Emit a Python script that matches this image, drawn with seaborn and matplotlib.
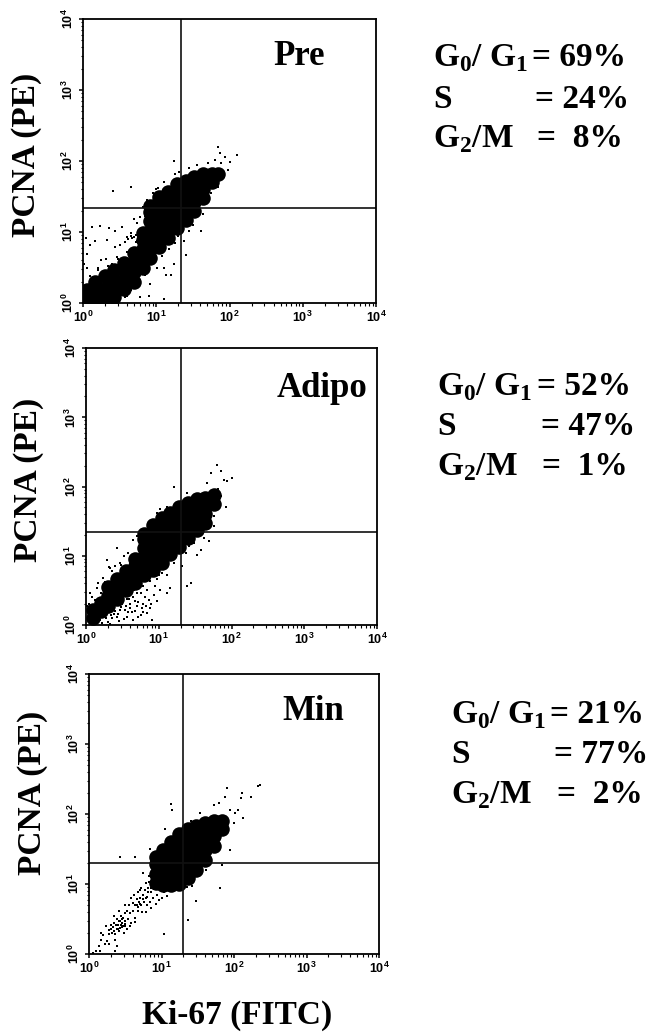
"""Three Ki-67 / PCNA flow cytometry dot plots with cell cycle percentages."""

import matplotlib.pyplot as plt
import numpy as np
import pandas as pd
import seaborn as sns
from matplotlib.ticker import FixedLocator, NullFormatter

# All events are log10 fluorescence (Ki-67, PCNA).
# "core" events are the saturated centre of each cloud, "sparse" the single dots.
pre_core = [
    (.05, .06), (.05, .18), (.17, .05), (.17, .18), (.17, .30), (.30, .07), (.30, .20), (.30, .38),
    (.43, .08), (.43, .20), (.43, .33), (.43, .47), (.56, .20), (.56, .33), (.56, .47), (.56, .56),
    (.69, .30), (.69, .43), (.69, .56), (.69, .70), (.82, .50), (.82, .63), (.82, .76), (.82, .89),
    (.82, .99), (.92, .63), (.92, .76), (.92, .89), (.92, 1.02), (.92, 1.15), (.92, 1.28), (.92, 1.37),
    (1.04, .79), (1.04, .92), (1.04, 1.05), (1.04, 1.18), (1.04, 1.31), (1.04, 1.44), (1.04, 1.50),
    (1.16, .92), (1.16, 1.05), (1.16, 1.18), (1.16, 1.31), (1.16, 1.44), (1.16, 1.57),
    (1.28, 1.05), (1.28, 1.18), (1.28, 1.31), (1.28, 1.44), (1.28, 1.57), (1.28, 1.67),
    (1.40, 1.17), (1.40, 1.30), (1.40, 1.43), (1.40, 1.56), (1.40, 1.72),
    (1.52, 1.29), (1.52, 1.42), (1.52, 1.55), (1.52, 1.68), (1.52, 1.77),
    (1.64, 1.48), (1.64, 1.60), (1.64, 1.72), (1.64, 1.82), (1.76, 1.70), (1.76, 1.82), (1.84, 1.82),
]
pre_sparse = [
    (.41, 1.58), (.65, 1.63), (1.24, 2.0), (.12, 1.07), (.23, 1.08), (.35, 1.06), (.44, 1.02), (.53, 1.07),
    (.04, .92), (.09, .81), (.16, .88), (.33, .89), (.44, .79), (.51, .81), (.60, .93), (.67, .91),
    (.74, .88), (.58, .86), (.65, .98), (.69, 1.19), (.78, 1.21), (.74, 1.12), (.02, .55), (.06, .50),
    (.14, .36), (.21, .50), (.32, .62), (.46, .65), (.05, .69), (.25, .60), (.39, .55), (.78, .08),
    (.90, .10), (1.11, .05), (.92, .27), (1.13, .39), (1.20, .40), (1.11, .50), (1.24, .55), (1.01, .50),
    (1.41, .67), (1.38, .88), (1.61, 1.02), (1.64, 1.26), (1.84, 2.2), (1.87, 2.11), (1.94, 2.06),
    (2.0, 1.99), (2.1, 2.08), (1.98, 1.87), (1.80, 2.01), (1.89, 1.97), (1.25, 1.82), (1.31, 1.85),
    (1.45, 1.90), (1.55, 1.95), (1.70, 1.97), (1.10, 1.70), (1.0, 1.60), (.87, 1.45), (.95, 1.55),
    (.82, 1.35), (1.70, 1.42), (1.60, 1.30), (1.75, 1.55), (1.45, 1.02), (1.50, 1.10), (1.30, .95),
    (1.25, .85), (1.0, .60), (.85, .40), (.75, .25), (.60, .10), (.50, .05), (.66, .95), (.70, .93),
    (.62, .90), (.72, .96), (.10, .38), (.20, .47), (.34, .52), (.48, .62), (.60, .72), (.72, .86),
    (.78, 1.02), (.58, .09), (.66, .18), (.78, .33), (.90, .46), (1.08, .66), (1.18, .76), (1.32, .98),
    (1.44, 1.08), (1.56, 1.22), (1.72, 1.50), (1.84, 1.64), (1.92, 1.78), (.84, 1.22), (1.02, 1.62),
]

adipo_core = [
    (.10, .10), (.10, .22), (.20, .20), (.20, .32), (.30, .28), (.30, .42), (.30, .55), (.42, .38),
    (.42, .52), (.42, .66), (.55, .50), (.55, .63), (.55, .78), (.68, .60), (.68, .72), (.68, .85),
    (.68, .95), (.80, .72), (.80, .85), (.80, .98), (.80, 1.11), (.80, 1.24), (.80, 1.32),
    (.92, .80), (.92, .93), (.92, 1.06), (.92, 1.19), (.92, 1.32), (.92, 1.45),
    (1.04, .90), (1.04, 1.03), (1.04, 1.16), (1.04, 1.29), (1.04, 1.42), (1.04, 1.55),
    (1.16, 1.02), (1.16, 1.15), (1.16, 1.28), (1.16, 1.41), (1.16, 1.54), (1.16, 1.62),
    (1.28, 1.13), (1.28, 1.26), (1.28, 1.39), (1.28, 1.52), (1.28, 1.65), (1.28, 1.70),
    (1.40, 1.25), (1.40, 1.38), (1.40, 1.51), (1.40, 1.64), (1.40, 1.76),
    (1.52, 1.37), (1.52, 1.50), (1.52, 1.63), (1.52, 1.76), (1.52, 1.82),
    (1.64, 1.48), (1.64, 1.60), (1.64, 1.72), (1.64, 1.84), (1.76, 1.75), (1.76, 1.88),
]
adipo_sparse = [
    (1.80, 2.31), (1.72, 2.20), (1.85, 2.22), (1.90, 2.10), (2.01, 2.12), (1.94, 2.08), (1.92, 1.71),
    (1.76, 1.57), (1.85, 1.86), (1.21, 2.0), (.42, 1.11), (.29, .94), (.31, .84), (.17, .60), (.06, .46),
    (.02, .27), (.10, .12), (.19, .07), (.33, .02), (.38, .24), (.47, .22), (.56, .12), (.65, .07),
    (.75, .14), (.84, .17), (.91, .07), (.70, .27), (.79, .31), (.86, .36), (.98, .34), (1.12, .46),
    (1.02, .51), (.95, .56), (1.16, .53), (.84, .51), (.75, .46), (.61, .31), (.54, .22), (.63, .19),
    (.42, .12), (.72, .12), (.79, .19), (.68, .34), (.65, .41), (1.05, .75), (1.12, .72), (1.21, .89),
    (1.32, .85), (1.44, .60), (1.39, .56), (1.37, 1.04), (1.53, 1.01), (1.58, 1.09), (1.69, 1.21),
    (1.62, 1.26), (1.48, 1.18), (1.41, 1.14), (1.76, 1.43), (.65, 1.23), (.70, 1.28), (.58, 1.04),
    (.52, .99), (.40, .85), (.33, .82), (.47, .89), (.24, .68), (.15, .53), (.08, .41), (1.02, 1.67),
    (1.12, 1.71), (1.39, 1.91), (1.53, 1.88), (1.67, 2.05), (1.81, 1.96), (.98, 1.62), (.86, 1.43),
    (.25, .15), (.15, .30), (.30, .05), (.12, .05), (.05, .15), (.22, .03), (.04, .30), (.60, .24),
    (.50, .30), (.88, .25), (.93, .44), (.66, .50), (.57, .37), (.44, .16), (.52, .08), (.58, .19),
    (.68, .20), (.72, .33), (.77, .24), (.82, .28), (.81, .40), (.90, .30), (.55, .27), (.46, .06),
    (.36, .10), (.28, .10), (.38, .16), (.03, .08), (.14, .17), (.26, .62), (.36, .78), (.48, .86),
    (.60, .94), (.73, 1.08), (.21, .46), (.13, .36), (.34, .14), (.40, .20), (.48, .26), (.59, .38),
    (.70, .46), (.78, .56), (.88, .64), (1.00, .72), (.98, .66), (1.10, .82), (1.24, .98), (1.36, 1.10),
    (1.48, 1.24), (1.60, 1.38),
]

min_core = [
    (.92, 1.02), (.92, 1.15), (.92, 1.28), (.92, 1.38), (1.02, .98), (1.02, 1.10), (1.02, 1.23),
    (1.02, 1.36), (1.02, 1.49), (1.13, .98), (1.13, 1.10), (1.13, 1.23), (1.13, 1.36), (1.13, 1.49),
    (1.13, 1.60), (1.24, 1.0), (1.24, 1.13), (1.24, 1.26), (1.24, 1.39), (1.24, 1.52), (1.24, 1.65),
    (1.24, 1.72), (1.36, 1.08), (1.36, 1.21), (1.36, 1.34), (1.36, 1.47), (1.36, 1.60), (1.36, 1.73),
    (1.36, 1.79), (1.48, 1.20), (1.48, 1.33), (1.48, 1.46), (1.48, 1.59), (1.48, 1.72), (1.48, 1.83),
    (1.60, 1.35), (1.60, 1.48), (1.60, 1.61), (1.60, 1.74), (1.60, 1.87), (1.72, 1.55), (1.72, 1.68),
    (1.72, 1.81), (1.72, 1.90), (1.83, 1.78), (1.83, 1.90),
]
min_sparse = [
    (.05, .02), (.10, .05), (.14, .12), (.17, .20), (.20, .27), (.16, .30), (.22, .15), (.25, .19),
    (.27, .28), (.28, .35), (.30, .42), (.32, .30), (.33, .38), (.35, .44), (.36, .28), (.38, .36),
    (.39, .50), (.40, .42), (.42, .33), (.43, .47), (.44, .55), (.45, .38), (.46, .44), (.47, .52),
    (.48, .30), (.49, .40), (.50, .58), (.50, .47), (.52, .62), (.52, .36), (.54, .50), (.55, .70),
    (.56, .58), (.58, .45), (.60, .73), (.60, .62), (.62, .84), (.63, .52), (.64, .70), (.66, .78),
    (.67, .62), (.68, .88), (.70, .71), (.71, .80), (.72, .95), (.73, .60), (.74, .85), (.76, .74),
    (.77, .92), (.78, 1.02), (.80, .82), (.80, .70), (.82, .95), (.83, 1.12), (.84, .75), (.85, .88),
    (.87, 1.02), (.88, .80), (.90, .93), (.92, .72), (.94, .85), (.96, .77), (1.0, .80), (1.03, .88),
    (1.08, .83), (1.12, .90), (.43, 1.39), (.63, 1.39), (.84, 1.50), (1.13, 2.14), (1.14, 2.06),
    (1.03, .29), (1.37, .48), (1.47, .76), (1.80, .94), (1.94, 1.48), (1.62, 1.20), (1.83, 1.27),
    (2.36, 2.41), (2.33, 2.40), (2.23, 2.24), (2.11, 2.30), (2.09, 2.23), (2.05, 2.06), (2.13, 1.94),
    (1.90, 2.37), (1.72, 2.13), (1.53, 2.01), (1.79, 2.16), (1.95, 2.06), (2.02, 2.01), (2.0, 1.87),
    (1.88, 2.25), (1.90, 1.73), (1.81, 1.54), (1.05, 1.78), (1.17, 1.73), (1.40, 1.90), (1.49, 1.11),
    (1.42, .97), (1.35, .96), (.75, 1.16), (.36, .04), (.38, .11), (.15, .04), (.41, .47), (.44, .41),
    (.47, .40), (.50, .43), (.43, .37), (.46, .50), (.37, .42), (.40, .36), (.34, .33), (.31, .36),
    (.66, .70), (.69, .75), (.72, .70), (.68, .67), (.74, .78), (.78, .80), (.81, .88), (.86, .95),
    (.89, 1.10), (.83, 1.03), (.24, .40), (.34, .55), (.42, .62), (.56, .40), (.64, .46), (.79, .60),
    (.86, .66), (.70, .92), (.58, .80), (.50, .70), (.28, .15), (.36, .20),
]

panel_names = ["Pre", "Adipo", "Min"]
gate_ki67 = [22, 20, 20]
gate_pcna = [22, 22, 20]
g0g1_pct = ["69%", "52%", "21%"]
s_pct = ["24%", "47%", "77%"]
g2m_pct = ["8%", "1%", "2%"]

decades = [1, 10, 100, 1000, 10000]
decade_labels = ["10$^{\\mathsf{0}}$", "10$^{\\mathsf{1}}$", "10$^{\\mathsf{2}}$",
                 "10$^{\\mathsf{3}}$", "10$^{\\mathsf{4}}$"]

W, H = 659, 1032
# left, right, top, bottom in pixels
boxes = [(83, 376, 19, 303), (86, 377, 348, 625), (89, 379, 674, 954)]
# y label centre x, y; panel name x, baseline
ylabel_pos = [(27, 155), (29, 480), (33, 793)]
name_pos = [(273, 65), (277, 397), (282, 720)]
# label x, row baselines, x of the "=" in the three rows
side_text = [
    (433, (66, 108, 147), (532, 535, 537)),
    (437, (395, 435, 475), (537, 541, 542)),
    (451, (723, 763, 803), (550, 554, 557)),
]

plt.rcParams.update(
    {
        "mathtext.fontset": "custom",
        "mathtext.bf": "Liberation Serif:bold",
        "mathtext.sf": "Liberation Sans:bold",
        "mathtext.rm": "Liberation Serif:bold",
    }
)
sns.set_theme(style="ticks", rc={"axes.linewidth": 1.3})


def events(pairs):
    arr = 10 ** np.array(pairs)
    return pd.DataFrame({"ki67": arr[:, 0], "pcna": arr[:, 1]})


fig = plt.figure(figsize=(W / 100, H / 100), dpi=100, facecolor="white")
clouds = [(pre_core, pre_sparse), (adipo_core, adipo_sparse), (min_core, min_sparse)]
serif = dict(family="Liberation Serif", weight="bold", color="black")

for i, (l, r, t, b) in enumerate(boxes):
    ax = fig.add_axes([l / W, 1 - b / H, (r - l) / W, (b - t) / H])
    core, sparse = clouds[i]
    sns.scatterplot(data=events(core), x="ki67", y="pcna", ax=ax, color="black", s=110, linewidth=0)
    sns.scatterplot(data=events(sparse), x="ki67", y="pcna", ax=ax, color="black", s=3.2, linewidth=0, marker="s")
    ax.set_xscale("log")
    ax.set_yscale("log")
    ax.set_xlim(1, 10000)
    ax.set_ylim(1, 10000)
    ax.axvline(gate_ki67[i], color="#111111", lw=1.2)
    ax.axhline(gate_pcna[i], color="#111111", lw=1.2)
    ax.xaxis.set_major_locator(FixedLocator(decades))
    ax.yaxis.set_major_locator(FixedLocator(decades))
    ax.xaxis.set_minor_formatter(NullFormatter())
    ax.yaxis.set_minor_formatter(NullFormatter())
    ax.set_xticklabels(decade_labels, family="Liberation Sans", weight="bold", fontsize=9)
    ax.set_yticklabels(decade_labels, family="Liberation Sans", weight="bold", fontsize=9,
                       rotation=90, va="center")
    ax.tick_params(which="major", length=3, width=1.1, pad=2, colors="black")
    ax.tick_params(which="minor", length=1.8, width=0.8, colors="black")
    ax.set_xlabel("")
    ax.set_ylabel("")
    for spine in ax.spines.values():
        spine.set_visible(True)
        spine.set_color("black")

    lx, ly = ylabel_pos[i]
    fig.text(lx / W, 1 - ly / H, "PCNA (PE)", rotation=90, ha="center", va="center", fontsize=24, **serif)
    nx, ny = name_pos[i]
    fig.text(nx / W, 1 - ny / H, panel_names[i], ha="left", va="baseline", fontsize=25, **serif)

    x_lab, rows, x_eq = side_text[i]
    side = dict(fontsize=24, va="baseline", **serif)
    fig.text(x_lab / W, 1 - rows[0] / H, "G$_{\\mathbf{0}}$/ G$_{\\mathbf{1}}$", **side)
    fig.text(x_eq[0] / W, 1 - rows[0] / H, f"= {g0g1_pct[i]}", **side)
    fig.text(x_lab / W, 1 - rows[1] / H, "S", **side)
    fig.text(x_eq[1] / W, 1 - rows[1] / H, f"= {s_pct[i]}", **side)
    fig.text(x_lab / W, 1 - rows[2] / H, "G$_{\\mathbf{2}}$/M", **side)
    fig.text(x_eq[2] / W, 1 - rows[2] / H, f"=  {g2m_pct[i]}", **side)

fig.text(237 / W, 1 - 1024 / H, "Ki-67 (FITC)", ha="center", va="baseline", fontsize=24, **serif)

fig.savefig("out.png", dpi=100)
